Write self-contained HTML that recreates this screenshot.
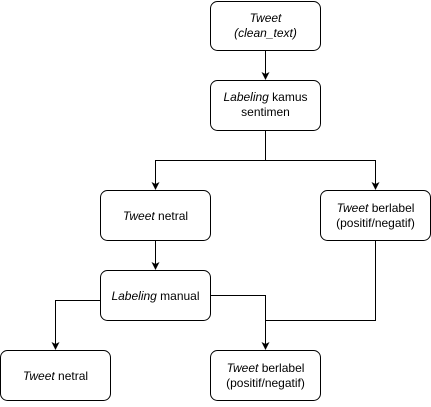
<!DOCTYPE html>
<html><head><style>body{margin:0;background:#fff}</style></head><body>
<svg width="431" height="402" viewBox="0 0 431 402" xmlns="http://www.w3.org/2000/svg" font-family="Liberation Sans, sans-serif" font-size="12" text-anchor="middle">
<defs><marker id="a" markerWidth="8" markerHeight="8" refX="7" refY="4" orient="auto" markerUnits="userSpaceOnUse"><path d="M0,0 L8,4 L0,8 L2,4 Z" fill="#000"/></marker></defs>
<g fill="#fff" stroke="#000" stroke-width="1">
<rect x="210.5" y="1.5" width="110" height="49" rx="7"/>
<rect x="210.5" y="80.5" width="110" height="50" rx="7"/>
<rect x="100.5" y="190.5" width="110" height="50" rx="7"/>
<rect x="320.5" y="190.5" width="110" height="50" rx="7"/>
<rect x="100.5" y="270.5" width="110" height="50" rx="7"/>
<rect x="0.5" y="350.5" width="110" height="50" rx="7"/>
<rect x="210.5" y="350.5" width="110" height="50" rx="7"/>
</g>
<g fill="none" stroke="#000" stroke-width="1">
<path d="M265.5 50.5V79" marker-end="url(#a)"/>
<path d="M265.5 130.5V160.5H155.5V189" marker-end="url(#a)"/>
<path d="M265.5 160.5H375.5V189" marker-end="url(#a)"/>
<path d="M155.5 240.5V269" marker-end="url(#a)"/>
<path d="M100.5 300.5H55.5V349" marker-end="url(#a)"/>
<path d="M210.5 295.5H265.5V349" marker-end="url(#a)"/>
<path d="M375.5 240.5V320.5H265.5"/>
</g>
<g fill="#000">
<text x="265.5" y="22"><tspan font-style="italic">Tweet</tspan></text>
<text x="265.5" y="37" font-style="italic">(clean_text)</text>
<text x="265.5" y="101"><tspan font-style="italic">Labeling</tspan> kamus</text>
<text x="265.5" y="116">sentimen</text>
<text x="155.5" y="220"><tspan font-style="italic">Tweet</tspan> netral</text>
<text x="375.5" y="212"><tspan font-style="italic">Tweet</tspan> berlabel</text>
<text x="375.5" y="227">(positif/negatif)</text>
<text x="155.5" y="300"><tspan font-style="italic">Labeling</tspan> manual</text>
<text x="55.5" y="380"><tspan font-style="italic">Tweet</tspan> netral</text>
<text x="265.5" y="372"><tspan font-style="italic">Tweet</tspan> berlabel</text>
<text x="265.5" y="387">(positif/negatif)</text>
</g>
</svg>
</body></html>
